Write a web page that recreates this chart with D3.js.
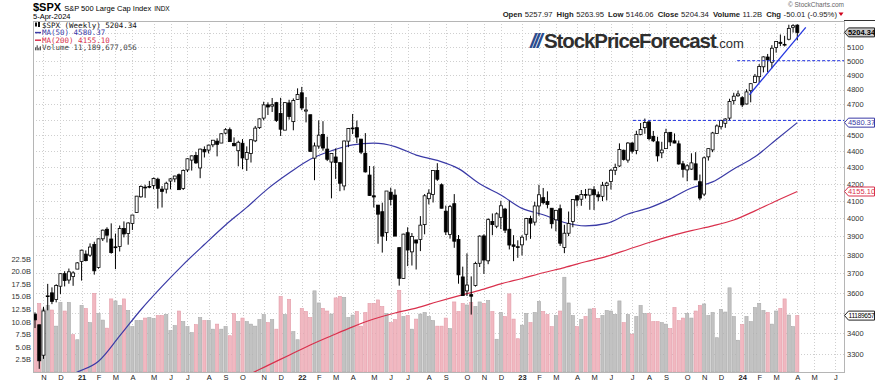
<!DOCTYPE html>
<html>
<head>
<meta charset="utf-8">
<script src="https://cdn.jsdelivr.net/npm/d3@7"></script>
<style>
body{margin:0;background:#fff;}
text{font-family:"Liberation Sans",Arial,sans-serif;}
.mono{font-family:"DejaVu Sans Mono","Liberation Mono",monospace;}
</style>
</head>
<body>
<div id="chart"></div>
<script>
// weekly bars, $SPX, week ending dates
var dates = [
'2020-10-23','2020-10-30','2020-11-06','2020-11-13','2020-11-20','2020-11-27','2020-12-04','2020-12-11','2020-12-18','2020-12-24','2020-12-31',
'2021-01-08','2021-01-15','2021-01-22','2021-01-29','2021-02-05','2021-02-12','2021-02-19','2021-02-26','2021-03-05','2021-03-12','2021-03-19','2021-03-26','2021-04-01','2021-04-09','2021-04-16','2021-04-23','2021-04-30','2021-05-07','2021-05-14','2021-05-21','2021-05-28','2021-06-04','2021-06-11','2021-06-18','2021-06-25','2021-07-02','2021-07-09','2021-07-16','2021-07-23','2021-07-30','2021-08-06','2021-08-13','2021-08-20','2021-08-27','2021-09-03','2021-09-10','2021-09-17','2021-09-24','2021-10-01','2021-10-08','2021-10-15','2021-10-22','2021-10-29','2021-11-05','2021-11-12','2021-11-19','2021-11-26','2021-12-03','2021-12-10','2021-12-17','2021-12-23','2021-12-31',
'2022-01-07','2022-01-14','2022-01-21','2022-01-28','2022-02-04','2022-02-11','2022-02-18','2022-02-25','2022-03-04','2022-03-11','2022-03-18','2022-03-25','2022-04-01','2022-04-08','2022-04-14','2022-04-22','2022-04-29','2022-05-06','2022-05-13','2022-05-20','2022-05-27','2022-06-03','2022-06-10','2022-06-17','2022-06-24','2022-07-01','2022-07-08','2022-07-15','2022-07-22','2022-07-29','2022-08-05','2022-08-12','2022-08-19','2022-08-26','2022-09-02','2022-09-09','2022-09-16','2022-09-23','2022-09-30','2022-10-07','2022-10-14','2022-10-21','2022-10-28','2022-11-04','2022-11-11','2022-11-18','2022-11-25','2022-12-02','2022-12-09','2022-12-16','2022-12-23','2022-12-30',
'2023-01-06','2023-01-13','2023-01-20','2023-01-27','2023-02-03','2023-02-10','2023-02-17','2023-02-24','2023-03-03','2023-03-10','2023-03-17','2023-03-24','2023-03-31','2023-04-06','2023-04-14','2023-04-21','2023-04-28','2023-05-05','2023-05-12','2023-05-19','2023-05-26','2023-06-02','2023-06-09','2023-06-16','2023-06-23','2023-06-30','2023-07-07','2023-07-14','2023-07-21','2023-07-28','2023-08-04','2023-08-11','2023-08-18','2023-08-25','2023-09-01','2023-09-08','2023-09-15','2023-09-22','2023-09-29','2023-10-06','2023-10-13','2023-10-20','2023-10-27','2023-11-03','2023-11-10','2023-11-17','2023-11-24','2023-12-01','2023-12-08','2023-12-15','2023-12-22','2023-12-29',
'2024-01-05','2024-01-12','2024-01-19','2024-01-26','2024-02-02','2024-02-09','2024-02-16','2024-02-23','2024-03-01','2024-03-08','2024-03-15','2024-03-22','2024-03-28','2024-04-05'];

var opens = [
3493,3441,3296,3583,3600,3566,3634,3699,3666,3684,3723,
3764,3803,3797,3855,3732,3886,3939,3885,3842,3844,3943,3916,3971,4034,4124,4181,4185,4191,4228,4169,4169,4217,4230,4255,4173,4284,4344,4373,4296,4409,4406,4439,4462,4450,4513,4535,4448,4402,4449,4349,4385,4464,4548,4610,4697,4689,4712,4640,4532,4710,4587,4733,
4778,4656,4632,4356,4431,4505,4412,4332,4363,4328,4188,4462,4541,4548,4475,4386,4253,4130,4076,4038,3920,4151,4134,3838,3674,3920,3815,3880,3883,3965,4113,4137,4281,4195,4041,3910,4084,3883,3682,3610,3591,3638,3754,3902,3767,3982,3956,4006,4053,3939,3853,3843,
3853,3911,3999,3979,4071,4119,4097,4058,3992,4055,3839,3917,3982,4130,4110,4138,4134,4166,4136,4127,4190,4214,4282,4308,4405,4344,4450,4404,4505,4548,4585,4492,4458,4389,4415,4518,4464,4445,4321,4284,4289,4321,4213,4140,4364,4407,4511,4554,4576,4610,4725,4758,
4745,4703,4792,4848,4888,4957,5026,4989,5094,5132,5111,5154,5242,5258];

var highs = [
3502,3441,3529,3646,3628,3644,3700,3712,3726,3712,3760,
3827,3823,3861,3870,3887,3937,3950,3972,3915,3960,3983,3978,4020,4129,4191,4195,4218,4238,4237,4187,4213,4234,4249,4262,4287,4355,4372,4394,4415,4429,4440,4468,4480,4513,4545,4549,4486,4465,4475,4429,4475,4559,4608,4718,4714,4743,4717,4744,4713,4731,4740,4808,
4818,4749,4632,4453,4595,4590,4490,4385,4416,4331,4465,4546,4637,4594,4475,4513,4308,4307,4076,4090,4158,4178,4168,3838,3914,3950,3918,3880,4013,4140,4168,4281,4325,4203,4073,4077,4140,3907,3736,3807,3685,3762,3905,3911,4001,4028,4034,4101,4060,4101,3906,3878,
3906,4003,4015,4095,4195,4176,4156,4058,4048,4079,3964,4039,4110,4133,4164,4170,4170,4186,4155,4212,4213,4290,4322,4448,4409,4456,4456,4528,4578,4607,4595,4527,4490,4458,4541,4520,4511,4466,4339,4319,4386,4393,4256,4366,4415,4521,4569,4599,4609,4738,4778,4793,
4755,4802,4842,4907,4976,5031,5048,5111,5140,5189,5179,5261,5265,5264];

var lows = [
3425,3233,3279,3512,3543,3552,3594,3633,3647,3636,3723,
3663,3764,3788,3694,3725,3874,3866,3805,3723,3817,3894,3854,3935,4034,4119,4118,4174,4169,4056,4062,4144,4168,4210,4165,4164,4271,4280,4321,4234,4360,4385,4424,4367,4450,4505,4459,4430,4306,4288,4278,4329,4456,4540,4595,4630,4650,4585,4495,4532,4600,4531,4733,
4662,4582,4395,4222,4414,4402,4338,4115,4230,4157,4162,4424,4507,4450,4381,4268,4129,4062,3859,3811,3875,4074,3901,3637,3674,3739,3742,3721,3819,3911,4080,4091,4218,4057,3907,3887,3837,3647,3585,3584,3491,3632,3734,3698,3749,3906,3945,3940,3918,3828,3765,3783,
3795,3877,3886,3960,4015,4080,4057,3943,3928,3847,3808,3901,3950,4069,4072,4114,4049,4048,4098,4099,4103,4167,4253,4302,4341,4328,4385,4380,4499,4509,4467,4456,4335,4356,4413,4431,4449,4316,4238,4216,4284,4224,4104,4128,4341,4393,4511,4537,4547,4592,4699,4751,
4682,4700,4714,4844,4845,4918,4920,4946,5057,5104,5102,5146,5203,5146];

var closes = [
3465,3270,3509,3585,3557,3638,3699,3663,3709,3703,3756,
3824,3768,3841,3714,3886,3934,3906,3811,3841,3943,3913,3974,4019,4128,4185,4180,4181,4232,4174,4156,4204,4230,4247,4166,4281,4352,4370,4327,4412,4395,4437,4468,4442,4509,4535,4459,4433,4455,4357,4391,4471,4545,4605,4697,4683,4698,4595,4538,4712,4620,4726,4766,
4677,4663,4398,4432,4500,4419,4349,4385,4329,4204,4463,4543,4546,4488,4393,4272,4132,4123,4024,3901,4158,4109,3901,3675,3912,3825,3899,3863,3962,4130,4145,4280,4228,4058,3924,4067,3873,3693,3586,3640,3583,3753,3901,3771,3993,3965,4026,4072,3934,3852,3845,3840,
3895,3999,3973,4071,4136,4090,4079,3970,4046,3862,3917,3971,4109,4105,4138,4133,4169,4136,4124,4192,4205,4282,4299,4410,4348,4450,4399,4505,4536,4582,4478,4464,4370,4406,4516,4457,4450,4320,4288,4309,4327,4224,4117,4358,4415,4514,4559,4595,4604,4719,4755,4770,
4697,4784,4840,4891,4959,5027,5006,5089,5137,5124,5117,5234,5254,5204.34];

// weekly volume, billions of shares
var volumes = [
10.5,13.6,12.5,13.2,12.3,9.1,13.8,12.1,13.8,7.4,6.4,
13.2,12.6,9.8,15.6,11.6,10.3,8.7,14.5,14.1,13.2,14.5,12.2,9.0,10.2,10.2,10.7,10.8,10.6,11.2,11.2,11.4,8.2,9.2,12.1,10.0,9.0,7.8,9.4,10.8,10.2,10.2,8.5,9.5,8.5,9.0,7.2,11.6,10.0,10.7,10.0,9.5,9.1,10.4,11.4,9.8,10.4,8.5,15.0,11.4,14.4,8.0,6.4,
12.6,12.0,10.8,16.1,13.7,12.6,12.1,11.5,14.7,15.0,14.8,10.8,11.3,12.0,9.1,11.8,13.6,13.6,14.3,13.0,11.6,9.8,10.4,16.2,11.0,11.2,8.5,10.5,11.5,11.8,11.0,10.2,9.1,9.1,10.7,8.6,13.9,12.0,13.6,13.3,13.8,13.0,13.9,13.6,14.2,12.0,6.5,11.8,11.0,15.5,10.5,6.6,
9.3,11.6,9.8,11.8,14.0,12.0,11.4,9.0,11.2,12.1,18.8,13.7,11.2,9.0,10.4,11.0,12.5,12.6,10.6,11.2,12.2,12.1,11.4,14.1,9.8,11.4,7.5,11.0,13.2,11.6,11.6,10.0,10.0,9.8,9.5,8.6,12.8,10.2,10.7,11.6,10.7,12.1,13.2,13.5,11.2,11.8,6.8,12.4,11.9,16.7,11.0,6.3,
9.4,11.0,10.0,12.8,13.6,12.2,11.8,9.5,12.1,12.6,14.5,11.3,9.0,11.19];

// moving averages read every 5 weeks (week index into dates)
var maWeeks = [0,5,10,15,20,25,30,35,40,45,50,55,60,65,70,75,80,85,90,95,100,105,110,115,120,125,130,135,140,145,150,155,160,165,170,175,180];
var ma50 = [3136,3173,3218,3268,3387,3515,3633,3747,3855,3963,4063,4172,4265,4349,4402,4439,4449,4428,4375,4342,4292,4201,4135,4057,4021,3977,3958,3972,4025,4060,4112,4176,4212,4290,4364,4471,4580.37];
var ma200 = [null,null,null,null,null,null,null,null,null,3158,3202,3249,3296,3344,3388,3431,3469,3499,3523,3555,3585,3613,3646,3674,3704,3731,3762,3791,3828,3866,3901,3931,3958,3991,4043,4100,4155.10];

// drawn annotations
var trendWeeks = [168.7, 182];
var trendPrices = [4765, 5242];
var levelPrices = [5000, 4595];
var levelStartWeeks = [165.8, 141.2];

// axes
var priceTicks = [3300,3400,3500,3600,3700,3800,3900,4000,4100,4200,4300,4400,4500,4600,4700,4800,4900,5000,5100,5200];
var priceLabels = [3300,3400,3600,3700,3800,3900,4000,4100,4200,4300,4400,4500,4700,4800,4900,5000,5100];
var volumeTicks = [2.5,5,7.5,10,12.5,15,17.5,20,22.5];
var tickDates = ['2020-11-06','2020-12-04','2021-01-08','2021-02-05','2021-03-05','2021-04-01','2021-05-07','2021-06-04','2021-07-02','2021-08-06','2021-09-03','2021-10-01','2021-11-05','2021-12-03','2022-01-07','2022-02-04','2022-03-04','2022-04-01','2022-05-06','2022-06-03','2022-07-01','2022-08-05','2022-09-02','2022-10-07','2022-11-04','2022-12-02','2023-01-06','2023-02-03','2023-03-03','2023-04-06','2023-05-05','2023-06-02','2023-07-07','2023-08-04','2023-09-01','2023-10-06','2023-11-03','2023-12-01','2024-01-05','2024-02-02','2024-03-01','2024-04-05','2024-05-03','2024-06-07'];
var tickLabels = ['N','D','21','F','M','A','M','J','J','A','S','O','N','D','22','F','M','A','M','J','J','A','S','O','N','D','23','F','M','A','M','J','J','A','S','O','N','D','24','F','M','A','M','J'];

main();

function main(){
	//configuration
	var width = 875,
		height = 385,
		frame = {left: 33, right: 844, top: 21, bottom: 372},
		blue = '#3a3aa6',
		red = '#d9304c';

	var last = closes.length - 1;

	var bars = closes.map(function(c, i){
		return {
			i: i, open: opens[i], high: highs[i], low: lows[i], close: c,
			volume: volumes[i],
			down: i === 0 ? true : c < closes[i-1]
		};
	});

	function weekIndex(s){
		var k = dates.indexOf(s);
		if (k >= 0) return k;
		return last + Math.round((new Date(s) - new Date(dates[last])) / (7*864e5));
	}
	var tickIdx = tickDates.map(weekIndex);

	var x = d3.scaleLinear().domain([0, last]).range([35, 797.3]);
	var y = d3.scaleLog().domain([3218.6, 5288.9]).range([frame.bottom, frame.top]);
	var yVol = d3.scaleLinear().domain([0, 25]).range([frame.bottom, 246]);

	var svg = d3.select('#chart')
		.append('svg')
			.attr('width', width)
			.attr('height', height);

	svg.append('defs').append('clipPath').attr('id', 'clip')
		.append('rect')
			.attr('x', frame.left).attr('y', frame.top)
			.attr('width', frame.right - frame.left)
			.attr('height', frame.bottom - frame.top);

	// grid
	var grid = svg.append('g')
		.attr('stroke', '#cfcfcf')
		.attr('stroke-dasharray', '1,2')
		.attr('stroke-width', 1);
	grid.selectAll('.hg').data(priceTicks).enter().append('line')
		.attr('x1', frame.left).attr('x2', frame.right)
		.attr('y1', function(d){ return Math.round(y(d)) + 0.5; })
		.attr('y2', function(d){ return Math.round(y(d)) + 0.5; });
	grid.selectAll('.vg').data(tickIdx).enter().append('line')
		.attr('y1', frame.top).attr('y2', frame.bottom)
		.attr('x1', function(d){ return Math.round(x(d)) + 0.5; })
		.attr('x2', function(d){ return Math.round(x(d)) + 0.5; });

	var plot = svg.append('g').attr('clip-path', 'url(#clip)');

	// volume
	plot.selectAll('.vol')
		.data(bars)
			.enter()
		.append('rect')
			.attr('class', 'vol')
			.attr('x', function(d){ return x(d.i) - 1.6; })
			.attr('width', 3.2)
			.attr('y', function(d){ return yVol(d.volume); })
			.attr('height', function(d){ return yVol(0) - yVol(d.volume); })
			.attr('fill', function(d){ return d.down ? '#f1b8c1' : '#c2c2c2'; })
			.attr('stroke', function(d){ return d.down ? '#e39ca8' : '#a9a9a9'; })
			.attr('stroke-width', 0.6);

	// moving averages
	var maLine = d3.line()
		.defined(function(d){ return d[1] != null; })
		.x(function(d){ return x(d[0]); })
		.y(function(d){ return y(d[1]); })
		.curve(d3.curveMonotoneX);

	plot.append('path')
		.datum(maWeeks.map(function(w, k){ return [w, ma200[k]]; }))
		.attr('d', maLine)
		.attr('fill', 'none').attr('stroke', red).attr('stroke-width', 1.2);
	plot.append('path')
		.datum(maWeeks.map(function(w, k){ return [w, ma50[k]]; }))
		.attr('d', maLine)
		.attr('fill', 'none').attr('stroke', blue).attr('stroke-width', 1.2);

	// candles
	var candle = plot.selectAll('.candle')
		.data(bars)
			.enter()
		.append('g')
			.attr('class', 'candle');
	candle.append('line')
		.attr('x1', function(d){ return x(d.i); })
		.attr('x2', function(d){ return x(d.i); })
		.attr('y1', function(d){ return y(d.high); })
		.attr('y2', function(d){ return y(d.low); })
		.attr('stroke', '#000').attr('stroke-width', 1);
	candle.append('rect')
		.attr('x', function(d){ return x(d.i) - 1.5; })
		.attr('width', 3)
		.attr('y', function(d){ return y(Math.max(d.open, d.close)); })
		.attr('height', function(d){ return Math.max(0.8, Math.abs(y(d.open) - y(d.close))); })
		.attr('fill', function(d){ return d.close < d.open ? '#000' : '#fff'; })
		.attr('stroke', '#000').attr('stroke-width', 0.8);

	// annotations
	plot.selectAll('.level')
		.data(levelPrices)
			.enter()
		.append('line')
			.attr('x1', function(d, k){ return x(levelStartWeeks[k]); })
			.attr('x2', frame.right)
			.attr('y1', function(d){ return y(d); })
			.attr('y2', function(d){ return y(d); })
			.attr('stroke', '#1f2fe0').attr('stroke-width', 1)
			.attr('stroke-dasharray', '3,2');
	plot.append('line')
		.attr('x1', x(trendWeeks[0])).attr('y1', y(trendPrices[0]))
		.attr('x2', x(trendWeeks[1])).attr('y2', y(trendPrices[1]))
		.attr('stroke', '#2436e0').attr('stroke-width', 1.3);

	// frame
	svg.append('rect')
		.attr('x', frame.left + 0.5).attr('y', frame.top + 0.5)
		.attr('width', frame.right - frame.left).attr('height', frame.bottom - frame.top)
		.attr('fill', 'none').attr('stroke', '#b5b5b5');
	svg.append('line')
		.attr('x1', frame.right).attr('x2', width)
		.attr('y1', frame.top - 0.5).attr('y2', frame.top - 0.5)
		.attr('stroke', '#333');

	// axes (labels hidden under the value tags are left out)
	var priceAxis = svg.append('g')
		.attr('transform', 'translate(' + (frame.right + 1) + ',0)')
		.call(d3.axisRight(y).tickValues(priceLabels).tickSize(0).tickPadding(2).tickFormat(d3.format('d')));
	priceAxis.select('.domain').remove();
	priceAxis.selectAll('text').attr('font-size', 7.5).attr('fill', '#333').attr('font-family', '"Liberation Sans",Arial,sans-serif');

	var volAxis = svg.append('g')
		.attr('transform', 'translate(' + (frame.left - 1) + ',0)')
		.call(d3.axisLeft(yVol).tickValues(volumeTicks).tickSize(0).tickPadding(1).tickFormat(function(d){ return d.toFixed(1) + 'B'; }));
	volAxis.select('.domain').remove();
	volAxis.selectAll('text').attr('font-size', 7.5).attr('fill', '#333').attr('font-family', '"Liberation Sans",Arial,sans-serif');

	var timeAxis = svg.append('g')
		.attr('transform', 'translate(0,' + frame.bottom + ')')
		.call(d3.axisBottom(x).tickValues(tickIdx).tickSize(0).tickPadding(3).tickFormat(function(d, k){ return tickLabels[k]; }));
	timeAxis.select('.domain').remove();
	timeAxis.selectAll('text')
		.attr('font-size', 7.5).attr('fill', '#222').attr('font-family', '"Liberation Sans",Arial,sans-serif')
		.attr('font-weight', function(d, k){ return tickLabels[k].length > 1 ? 'bold' : 'normal'; });

	// value tags on the right
	function tag(yPos, label, stroke, fill, color, bold, size){
		var g = svg.append('g').attr('transform', 'translate(' + (frame.right + 0.5) + ',' + yPos + ')');
		g.append('path')
			.attr('d', 'M0,0L4,-4.5H30V4.5H4Z')
			.attr('fill', fill).attr('stroke', stroke).attr('stroke-width', 1);
		g.append('text')
			.attr('x', 17).attr('y', 0).attr('dy', '0.35em')
			.attr('text-anchor', 'middle')
			.attr('font-size', size || 7.5).attr('fill', color)
			.attr('font-weight', bold ? 'bold' : 'normal')
			.attr('letter-spacing', size ? -0.3 : 0)
			.text(label);
	}
	tag(y(closes[last]), '5204.34', '#222', '#c9c9c9', '#000', true);
	tag(y(ma50[ma50.length - 1]), '4580.37', blue, '#fff', blue);
	tag(y(ma200[ma200.length - 1]), '4155.10', red, '#fff', red);
	tag(yVol(volumes[last]), '11189657', '#222', '#fff', '#000', false, 6.6);

	// header
	var head = svg.append('text').attr('x', 33).attr('y', 11);
	head.append('tspan').attr('font-size', 11).attr('font-weight', 'bold').text('$SPX');
	head.append('tspan').attr('font-size', 7.5).attr('dx', 3).text('S&P 500 Large Cap Index');
	head.append('tspan').attr('font-size', 6.5).attr('dx', 3).text('INDX');
	svg.append('text').attr('x', 33).attr('y', 19).attr('font-size', 7.5).text('5-Apr-2024');

	svg.append('text')
		.attr('x', frame.right).attr('y', 7).attr('text-anchor', 'end')
		.attr('font-size', 6.5).attr('fill', '#666')
		.text('\u00a9 StockCharts.com');
	var quote = svg.append('text')
		.attr('x', frame.right - 7).attr('y', 16.5).attr('text-anchor', 'end')
		.attr('font-size', 7.7).attr('fill', '#222');
	[['Open', '5257.97'], ['High', '5263.95'], ['Low', '5146.06'], ['Close', '5204.34'], ['Volume', '11.2B'], ['Chg', '-50.01 (-0.95%)']]
		.forEach(function(p, k){
			quote.append('tspan').attr('font-weight', 'bold').attr('dx', k ? 4 : 0).text(p[0]);
			quote.append('tspan').attr('dx', 2.5).text(p[1]);
		});
	svg.append('path')
		.attr('d', 'M' + (frame.right - 5.5) + ',12.5h5l-2.5,3.5z')
		.attr('fill', '#d0021b');

	// legend
	var legend = svg.append('g').attr('class', 'mono').attr('font-size', 7.5);
	var legendRows = [
		{text: '$SPX (Weekly) 5204.34', color: '#111', icon: 'candle'},
		{text: 'MA(50) 4580.37', color: blue, icon: 'line'},
		{text: 'MA(200) 4155.10', color: red, icon: 'line'},
		{text: 'Volume 11,189,677,056', color: '#444', icon: 'bars'}
	];
	legendRows.forEach(function(r, k){
		var ly = 25 + k * 7.6;
		if (r.icon === 'line'){
			legend.append('line').attr('x1', 35).attr('x2', 41).attr('y1', ly).attr('y2', ly)
				.attr('stroke', r.color).attr('stroke-width', 1.5);
		} else if (r.icon === 'candle'){
			legend.append('rect').attr('x', 35).attr('y', ly - 2.5).attr('width', 2).attr('height', 4).attr('fill', '#111');
			legend.append('rect').attr('x', 38).attr('y', ly - 3).attr('width', 2).attr('height', 5).attr('fill', '#111');
		} else {
			[3, 5, 2.5, 4].forEach(function(h, j){
				legend.append('rect').attr('x', 35 + j * 1.6).attr('y', ly + 2.5 - h).attr('width', 1.2).attr('height', h).attr('fill', '#555');
			});
		}
		legend.append('text')
			.attr('x', 42).attr('y', ly).attr('dy', '0.35em')
			.attr('fill', r.color)
			.attr('class', 'mono')
			.text(r.text);
	});

	// logo
	var logo = svg.append('text').attr('x', 530).attr('y', 47.5);
	logo.append('tspan')
		.attr('font-size', 21).attr('font-weight', 'bold').attr('font-style', 'italic')
		.attr('fill', '#2b4d8f').attr('letter-spacing', -2.5)
		.text('///');
	logo.append('tspan')
		.attr('dx', 4)
		.attr('font-size', 20.5).attr('font-weight', 'bold').attr('fill', '#2e2e2e')
		.attr('letter-spacing', -1.1)
		.text('StockPriceForecast');
	logo.append('tspan')
		.attr('font-size', 13).attr('fill', '#2e2e2e')
		.text('.com');
}
</script>
</body>
</html>
